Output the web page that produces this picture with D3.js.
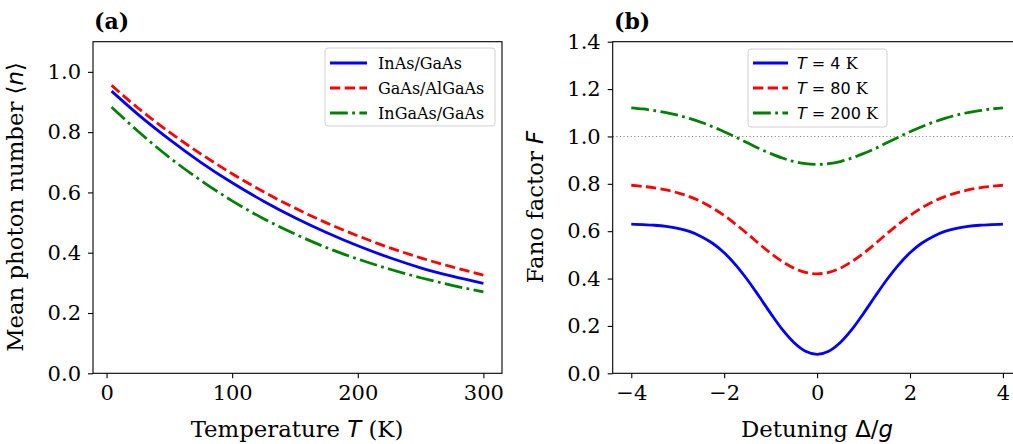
<!DOCTYPE html>
<html>
<head>
<meta charset="utf-8">
<script src="https://cdnjs.cloudflare.com/ajax/libs/d3/7.8.5/d3.min.js"></script>
<style>
  body { margin: 0; background: #fff; }
  svg { display: block; }
  .tick text { font-family: "DejaVu Serif", serif; font-size: 21px; fill: #000; }
  .domain { display: none; }
</style>
</head>
<body>
<script>
// panel (a): mean photon number vs temperature
var tempK = [4, 25, 50, 75, 100, 125, 150, 175, 200, 225, 250, 275, 300];
var nInAs   = [0.936, 0.859, 0.776, 0.700, 0.632, 0.571, 0.516, 0.467, 0.423, 0.384, 0.350, 0.322, 0.298];
var nGaAs   = [0.955, 0.880, 0.800, 0.728, 0.662, 0.602, 0.548, 0.499, 0.456, 0.417, 0.383, 0.353, 0.326];
var nInGaAs = [0.883, 0.803, 0.716, 0.640, 0.572, 0.513, 0.462, 0.417, 0.379, 0.346, 0.317, 0.292, 0.270];
var namesA = ["InAs/GaAs", "GaAs/AlGaAs", "InGaAs/GaAs"];

// panel (b): Fano factor vs detuning
var detuning = [-4, -3.75, -3.5, -3.25, -3, -2.75, -2.5, -2.25, -2, -1.75, -1.5, -1.25, -1, -0.75, -0.5, -0.25,
                0, 0.25, 0.5, 0.75, 1, 1.25, 1.5, 1.75, 2, 2.25, 2.5, 2.75, 3, 3.25, 3.5, 3.75, 4];
var fT4   = [0.630, 0.628, 0.625, 0.620, 0.612, 0.599, 0.578, 0.549, 0.509, 0.457, 0.395, 0.325, 0.253, 0.185, 0.130, 0.093,
             0.080, 0.093, 0.130, 0.185, 0.253, 0.325, 0.395, 0.457, 0.509, 0.549, 0.578, 0.599, 0.612, 0.620, 0.625, 0.628, 0.630];
var fT80  = [0.794, 0.789, 0.783, 0.774, 0.762, 0.746, 0.725, 0.698, 0.666, 0.629, 0.589, 0.547, 0.507, 0.472, 0.444, 0.426,
             0.420, 0.426, 0.444, 0.472, 0.507, 0.547, 0.589, 0.629, 0.666, 0.698, 0.725, 0.746, 0.762, 0.774, 0.783, 0.789, 0.794];
var fT200 = [1.121, 1.116, 1.109, 1.101, 1.090, 1.076, 1.060, 1.041, 1.020, 0.997, 0.973, 0.949, 0.928, 0.909, 0.894, 0.885,
             0.882, 0.885, 0.894, 0.909, 0.928, 0.949, 0.973, 0.997, 1.020, 1.041, 1.060, 1.076, 1.090, 1.101, 1.109, 1.116, 1.121];
var tempsB = ["4", "80", "200"];

var colors = ["#0000ff", "#ff0000", "#008000"];
var dashes = [null, "10.3,4.4", "17.8,4.4,2.8,4.4"];
var serif = "'DejaVu Serif', serif";
var sans = "'DejaVu Sans', sans-serif";
var labelSize = "22.8px";

var svg = d3.select("body").append("svg")
    .attr("width", 1013)
    .attr("height", 444);

//---------------- panel (a)
var xA = d3.scaleLinear().domain([-10.8, 314.8]).range([93, 502]);
var yA = d3.scaleLinear().domain([0, 1.1]).range([373.3, 41.7]);

var gA = svg.append("g");

gA.append("g")
  .attr("transform", "translate(0,373.3)")
  .call(d3.axisBottom(xA).tickValues([0, 100, 200, 300]).tickSize(5).tickPadding(7));
gA.append("g")
  .attr("transform", "translate(93,0)")
  .call(d3.axisLeft(yA).tickValues([0, 0.2, 0.4, 0.6, 0.8, 1.0]).tickFormat(d3.format(".1f")).tickSize(5).tickPadding(7));

var lineA = d3.line()
    .x(function(d) { return xA(d[0]); })
    .y(function(d) { return yA(d[1]); })
    .curve(d3.curveMonotoneX);

[nInAs, nGaAs, nInGaAs].forEach(function(s, i) {
  gA.append("path")
    .datum(tempK.map(function(t, j) { return [t, s[j]]; }))
    .attr("fill", "none")
    .attr("stroke", colors[i])
    .attr("stroke-width", 2.8)
    .attr("stroke-dasharray", dashes[i])
    .attr("d", lineA);
});

gA.append("rect")
  .attr("x", 93).attr("y", 41.7)
  .attr("width", 409).attr("height", 331.6)
  .attr("fill", "none").attr("stroke", "#000").attr("stroke-width", 1.1);

// legend (a)
var legA = gA.append("g").attr("transform", "translate(325,48)");
legA.append("rect")
  .attr("width", 170).attr("height", 78).attr("rx", 3)
  .attr("fill", "#fff").attr("fill-opacity", 0.8)
  .attr("stroke", "#d0d0d0").attr("stroke-width", 1);
namesA.forEach(function(nm, i) {
  var yy = 15 + i * 25;
  legA.append("line")
    .attr("x1", 5).attr("x2", 42).attr("y1", yy).attr("y2", yy)
    .attr("stroke", colors[i]).attr("stroke-width", 2.8)
    .attr("stroke-dasharray", dashes[i]);
  legA.append("text")
    .attr("x", 53).attr("y", yy + 6)
    .style("font-family", serif).style("font-size", "16px")
    .text(nm);
});

gA.append("text")
  .attr("x", 94).attr("y", 29)
  .style("font-family", serif).style("font-size", "22px").style("font-weight", "bold")
  .text("(a)");

var xlabA = gA.append("text")
  .attr("x", 297).attr("y", 437)
  .attr("text-anchor", "middle")
  .style("font-family", serif).style("font-size", labelSize);
xlabA.append("tspan").text("Temperature ");
xlabA.append("tspan").style("font-family", sans).style("font-style", "italic").text("T");
xlabA.append("tspan").text(" (K)");

var ylabA = gA.append("text")
  .attr("transform", "translate(23,207) rotate(-90)")
  .attr("text-anchor", "middle")
  .style("font-family", serif).style("font-size", labelSize);
ylabA.append("tspan").text("Mean photon number ");
ylabA.append("tspan").style("font-family", sans).text("\u27E8");
ylabA.append("tspan").style("font-family", sans).style("font-style", "italic").text("n");
ylabA.append("tspan").style("font-family", sans).text("\u27E9");

//---------------- panel (b)
var xB = d3.scaleLinear().domain([-4.4, 4.4]).range([612.7, 1021.5]);
var yB = d3.scaleLinear().domain([0, 1.4]).range([373.3, 41.7]);

var gB = svg.append("g");

gB.append("g")
  .attr("transform", "translate(0,373.3)")
  .call(d3.axisBottom(xB).tickValues([-4, -2, 0, 2, 4]).tickSize(5).tickPadding(7));
gB.append("g")
  .attr("transform", "translate(612.7,0)")
  .call(d3.axisLeft(yB).tickValues([0, 0.2, 0.4, 0.6, 0.8, 1.0, 1.2, 1.4]).tickFormat(d3.format(".1f")).tickSize(5).tickPadding(7));

gB.append("line")
  .attr("x1", 612.7).attr("x2", 1021.5)
  .attr("y1", yB(1)).attr("y2", yB(1))
  .attr("stroke", "#808080").attr("stroke-width", 1.1)
  .attr("stroke-dasharray", "1.1,2.5");

var lineB = d3.line()
    .x(function(d) { return xB(d[0]); })
    .y(function(d) { return yB(d[1]); })
    .curve(d3.curveCatmullRom);

[fT4, fT80, fT200].forEach(function(s, i) {
  gB.append("path")
    .datum(detuning.map(function(t, j) { return [t, s[j]]; }))
    .attr("fill", "none")
    .attr("stroke", colors[i])
    .attr("stroke-width", 2.8)
    .attr("stroke-dasharray", dashes[i])
    .attr("d", lineB);
});

gB.append("rect")
  .attr("x", 612.7).attr("y", 41.7)
  .attr("width", 408.8).attr("height", 331.6)
  .attr("fill", "none").attr("stroke", "#000").attr("stroke-width", 1.1);

// legend (b)
var legB = gB.append("g").attr("transform", "translate(748,49)");
legB.append("rect")
  .attr("width", 139).attr("height", 78).attr("rx", 3)
  .attr("fill", "#fff").attr("fill-opacity", 0.8)
  .attr("stroke", "#d0d0d0").attr("stroke-width", 1);
tempsB.forEach(function(t, i) {
  var yy = 14 + i * 25;
  legB.append("line")
    .attr("x1", 5).attr("x2", 40).attr("y1", yy).attr("y2", yy)
    .attr("stroke", colors[i]).attr("stroke-width", 2.8)
    .attr("stroke-dasharray", dashes[i]);
  var tx = legB.append("text")
    .attr("x", 49).attr("y", yy + 6)
    .style("font-family", sans).style("font-size", "16px");
  tx.append("tspan").style("font-style", "italic").text("T");
  tx.append("tspan").text(" = " + t);
  tx.append("tspan").style("font-family", serif).text(" K");
});

gB.append("text")
  .attr("x", 614).attr("y", 29)
  .style("font-family", serif).style("font-size", "22px").style("font-weight", "bold")
  .text("(b)");

var xlabB = gB.append("text")
  .attr("x", 817).attr("y", 437)
  .attr("text-anchor", "middle")
  .style("font-family", serif).style("font-size", labelSize);
xlabB.append("tspan").text("Detuning ");
xlabB.append("tspan").style("font-family", sans).text("\u0394/");
xlabB.append("tspan").style("font-family", sans).style("font-style", "italic").text("g");

var ylabB = gB.append("text")
  .attr("transform", "translate(543,207) rotate(-90)")
  .attr("text-anchor", "middle")
  .style("font-family", serif).style("font-size", labelSize);
ylabB.append("tspan").text("Fano factor ");
ylabB.append("tspan").style("font-family", sans).style("font-style", "italic").text("F");

svg.selectAll(".tick line").attr("stroke", "#000").attr("stroke-width", 1.1);
</script>
</body>
</html>
